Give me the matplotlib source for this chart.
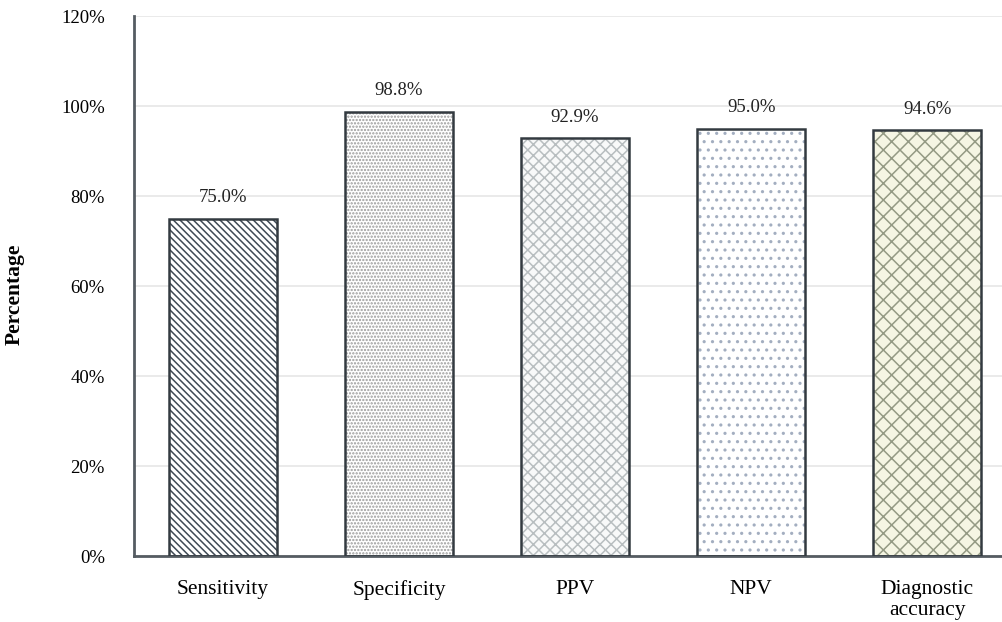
import matplotlib.pyplot as plt
import numpy as np

plt.rcParams['font.family'] = ['Liberation Serif', 'DejaVu Serif']
plt.rcParams['hatch.linewidth'] = 1.1

# dane z wykresu
categories = ['Sensitivity', 'Specificity', 'PPV', 'NPV', 'Diagnostic\naccuracy']
values = [75.0, 98.8, 92.9, 95.0, 94.6]
labels = ['75.0%', '98.8%', '92.9%', '95.0%', '94.6%']
yticks = [0, 20, 40, 60, 80, 100, 120]

fills = ['#ffffff', '#ffffff', '#f8f9f9', '#ffffff', '#f5f5e3']
hatch_cols = ['#3f4a55', '#9a9a9a', '#b8bec0', '#a3aec0', '#949a84']
hatches = ['\\\\\\\\\\', '.....', 'xxx', '..', 'xx']

fig = plt.figure(figsize=(10.03, 6.22), dpi=100)
ax = fig.add_axes([0.1336, 0.106, 0.8664, 0.868])

x = np.arange(len(categories))
w = 0.615
for i in range(len(x)):
    ax.bar(x[i], values[i], width=w, color=fills[i], hatch=hatches[i],
           edgecolor=hatch_cols[i], linewidth=0, zorder=2)
ax.bar(x, values, width=w, color='none', edgecolor='#333a40', linewidth=1.8, zorder=3)

for xi, v, t in zip(x, values, labels):
    ax.annotate(t, (xi, v), xytext=(0, 9), textcoords='offset points',
                ha='center', va='bottom', fontsize=13.5, color='#222222')

ax.set_xlim(-0.505, 4.43)
ax.set_ylim(0, 120)
ax.set_yticks(yticks)
ax.set_yticklabels([f'{t}%' for t in yticks])
ax.set_xticks(x)
ax.set_xticklabels(categories, fontsize=15.5, linespacing=1.2)
ax.tick_params(axis='y', length=0, pad=21, labelsize=13.5)
ax.tick_params(axis='x', length=0, pad=17)
ax.grid(axis='y', color='#e6e6e6', linewidth=1.2, zorder=0)
ax.set_axisbelow(True)

for s in ['top', 'right']:
    ax.spines[s].set_visible(False)
ax.spines['left'].set_color('#555c62')
ax.spines['left'].set_linewidth(2)
ax.spines['bottom'].set_color('#555c62')
ax.spines['bottom'].set_linewidth(2)

ax.set_ylabel('Percentage', fontsize=15.5, fontweight='bold', labelpad=20)
ax.yaxis.set_label_coords(-0.126, 0.485)

fig.savefig('out.png', dpi=100)
